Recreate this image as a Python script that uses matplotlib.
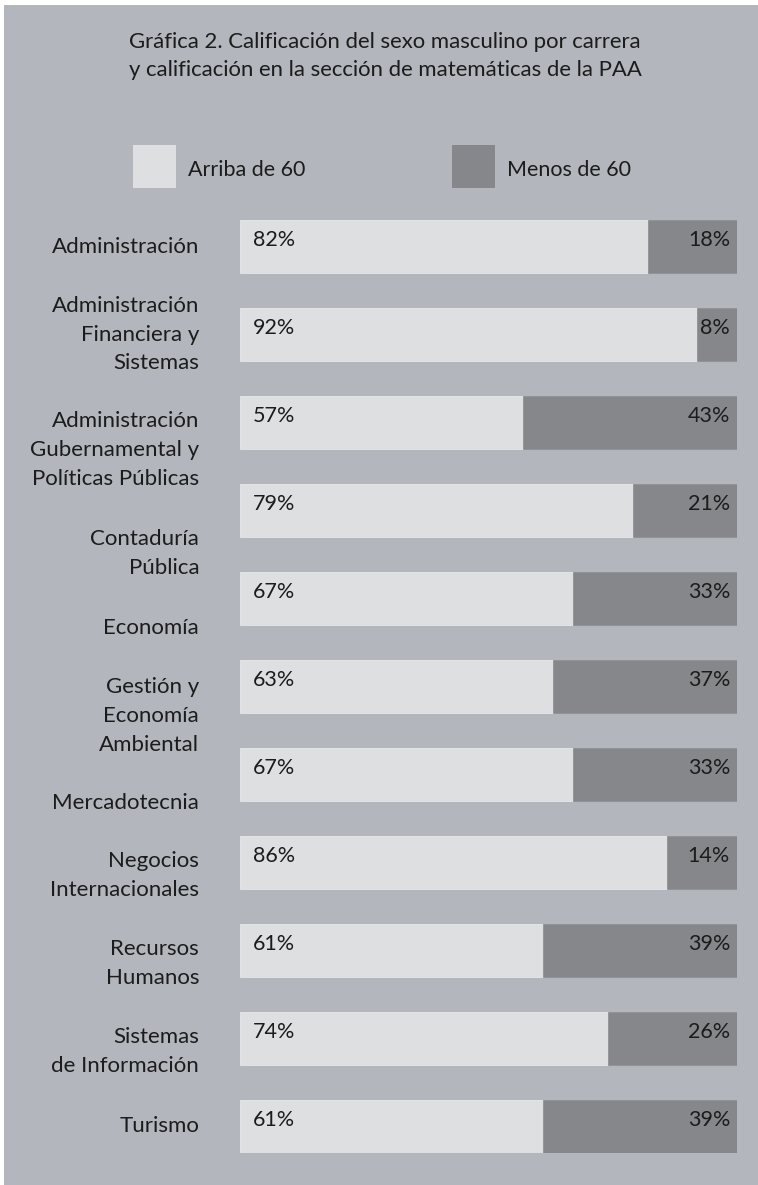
import matplotlib.pyplot as plt
from matplotlib.patches import Rectangle

# Datos: porcentaje de alumnos por carrera según calificación en matemáticas (PAA)
carreras = [
    "Administración",
    "Administración\nFinanciera y\nSistemas",
    "Administración\nGubernamental y\nPolíticas Públicas",
    "Contaduría\nPública",
    "Economía",
    "Gestión y\nEconomía\nAmbiental",
    "Mercadotecnia",
    "Negocios\nInternacionales",
    "Recursos\nHumanos",
    "Sistemas\nde Información",
    "Turismo",
]
arriba_60 = [82, 92, 57, 79, 67, 63, 67, 86, 61, 74, 61]
menos_60 = [18, 8, 43, 21, 33, 37, 33, 14, 39, 26, 39]
series = ["Arriba de 60", "Menos de 60"]

# desplazamiento vertical de cada etiqueta respecto al centro de su barra
desplaz_etiqueta = [0.0, 0.0, 0.31, 0.49, 0.33, 0.34, 0.32, 0.15, 0.15, 0.15, 0.0]

FONDO = "#b3b6bc"
CLARO = "#dedfe1"
OSCURO = "#86878a"
TEXTO = "#1c1c1c"

plt.rcParams['font.family'] = ['Lato', 'DejaVu Sans']

W, H = 758, 1185
fig = plt.figure(figsize=(W / 100, H / 100), dpi=100, facecolor="white")

# panel gris de fondo
fig.patches.append(Rectangle((4 / W, 0), 1, 1 - 5 / H, transform=fig.transFigure,
                             facecolor=FONDO, edgecolor="none", zorder=-5))

# título
fig.text(385 / W, 1 - 42 / H, "Gráfica 2. Calificación del sexo masculino por carrera",
         ha="center", va="center", fontsize=15.9, color=TEXTO)
fig.text(385 / W, 1 - 70 / H, "y calificación en la sección de matemáticas de la PAA",
         ha="center", va="center", fontsize=15.9, color=TEXTO)

# leyenda
for x0, col, nombre in [(133, CLARO, series[0]), (452, OSCURO, series[1])]:
    fig.patches.append(Rectangle((x0 / W, 1 - 188 / H), 43 / W, 43 / H,
                                 transform=fig.transFigure, facecolor=col,
                                 edgecolor="none", zorder=1))
    fig.text((x0 + 55) / W, 1 - 170 / H, nombre, ha="left", va="center",
             fontsize=15.5, color=TEXTO)

# barras apiladas al 100 %
top_px, bot_px = 220, 1153
ax = fig.add_axes([240 / W, 1 - bot_px / H, (737 - 240) / W, (bot_px - top_px) / H])
ax.set_facecolor("none")
alto = 53 / 88
y = list(range(len(carreras)))
ax.barh(y, arriba_60, height=alto, color=CLARO, edgecolor="#e6e7e9", linewidth=0.6)
ax.barh(y, menos_60, left=arriba_60, height=alto, color=OSCURO, edgecolor="#909194", linewidth=0.6)
ax.set_xlim(0, 100)
ax.set_ylim(len(carreras) - 1 + alto / 2, -alto / 2)
ax.axis("off")

for i in y:
    ax.text(2.6, i - alto / 2 + 0.23, f"{arriba_60[i]}%", ha="left", va="center",
            fontsize=15.5, color=TEXTO)
    ax.text(98.6, i - alto / 2 + 0.23, f"{menos_60[i]}%", ha="right", va="center",
            fontsize=15.5, color=TEXTO)
    ax.text(-8.2, i + desplaz_etiqueta[i], carreras[i], ha="right", va="center",
            fontsize=16, color=TEXTO, linespacing=1.56)

fig.savefig("out.png", dpi=100, facecolor="white")
